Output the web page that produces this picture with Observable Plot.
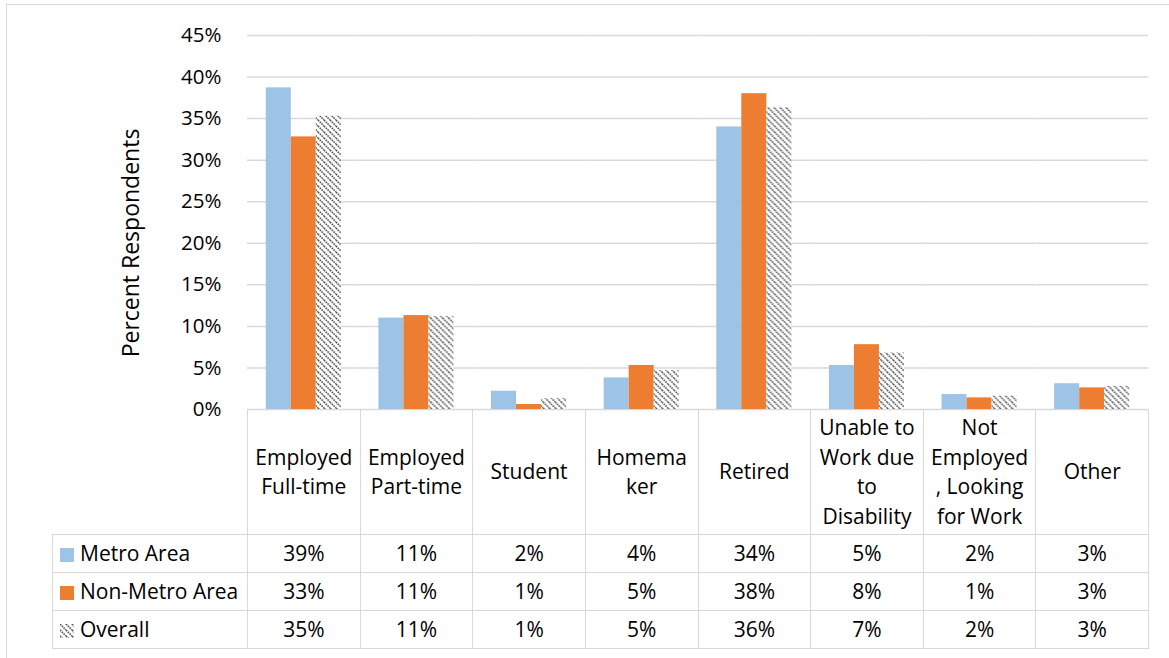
<!DOCTYPE html>
<html><head><meta charset="utf-8">
<script src="https://cdn.jsdelivr.net/npm/d3@7"></script>
<script src="https://cdn.jsdelivr.net/npm/@observablehq/plot@0.6"></script>
<style>
body{margin:0;background:#fff;font-family:"Open Sans",sans-serif;color:#000;}
#wrap{position:relative;width:1169px;height:658px;overflow:hidden;background:#fff;}
#frame{position:absolute;left:6px;top:4px;width:1300px;height:800px;border-left:1.5px solid #d9d9d9;border-top:1.5px solid #d9d9d9;}
#chart{position:absolute;left:0;top:0;}
#ytitle{position:absolute;left:130px;top:243px;transform:translate(-50%,-50%) rotate(-90deg);font-size:23px;white-space:nowrap;}
#tbl{position:absolute;left:52px;top:409px;border-collapse:collapse;table-layout:fixed;font-size:21px;}
#tbl td{border:1.5px solid #d9d9d9;text-align:center;padding:0;white-space:nowrap;}
#tbl tr.head td{height:124px;line-height:29.5px;}
#tbl tr.row td{height:37px;line-height:37px;}
#tbl td.corner{border-top:none;border-left:none;}
#tbl td.lab{text-align:left;padding-left:7px;}
.sw{display:inline-block;width:14px;height:14px;margin-right:6px;vertical-align:-1px;}
</style>
</head><body>
<div id="wrap">
  <svg width="0" height="0" style="position:absolute">
    <defs>
      <pattern id="hatch" patternUnits="userSpaceOnUse" width="6" height="6">
        <rect width="6" height="6" fill="#fff"></rect>
        <path d="M0,0L6,6M-1,5L1,7M5,-1L7,1" stroke="#555" stroke-width="1.6" stroke-dasharray="1.6 0.9"></path>
      </pattern>
    </defs>
  </svg>
  <div id="frame"></div>
  <div id="chart"></div>
  <div id="ytitle">Percent Respondents</div>
  <table id="tbl"></table>
</div>
<script>
// ---- data ----
const categories = ["Employed Full-time", "Employed Part-time", "Student", "Homemaker", "Retired", "Unable to Work due to Disability", "Not Employed, Looking for Work", "Other"];
const headerLines = [["Employed", "Full-time"], ["Employed", "Part-time"], ["Student"], ["Homema", "ker"], ["Retired"], ["Unable to", "Work due", "to", "Disability"], ["Not", "Employed", ", Looking", "for Work"], ["Other"]];
const seriesNames = ["Metro Area", "Non-Metro Area", "Overall"];
const metroArea = [38.7, 11.0, 2.2, 3.8, 34.0, 5.3, 1.8, 3.1];
const nonMetroArea = [32.8, 11.3, 0.6, 5.3, 38.0, 7.8, 1.4, 2.6];
const overall = [35.3, 11.2, 1.3, 4.7, 36.3, 6.8, 1.6, 2.8];
const yTicks = [0, 5, 10, 15, 20, 25, 30, 35, 40, 45];

// ---- styles ----
const fills = ["#9DC3E6", "#ED7D31", "url(#hatch)"];

const seriesValues = [metroArea, nonMetroArea, overall];
const rows = [];
seriesNames.forEach((s, si) => categories.forEach((c, ci) => rows.push({series: s, category: c, value: seriesValues[si][ci]})));

const chart = Plot.plot({
  width: 1169,
  height: 430,
  marginTop: 35,
  marginBottom: 21,
  marginLeft: 247,
  marginRight: 21,
  style: {fontFamily: "Open Sans, sans-serif", fontSize: "20.5px", color: "#000", background: "transparent"},
  fx: {domain: categories, padding: 0, round: false, axis: null},
  x: {domain: seriesNames, paddingInner: 0, paddingOuter: 0.75, round: false, axis: null},
  y: {domain: [0, 45], axis: null},
  color: {domain: seriesNames, range: fills},
  marks: [
    Plot.ruleY(yTicks, {stroke: "#d9d9d9", strokeWidth: 1.5}),
    Plot.barY(rows, {fx: "category", x: "series", y: "value", fill: "series"}),
    Plot.axisY({facetAnchor: "left", ticks: yTicks, tickSize: 0, tickPadding: 26, tickFormat: d => d + "%", label: null})
  ]
});
document.getElementById("chart").appendChild(chart);

// ---- data table ----
const tbl = document.getElementById("tbl");
const cg = document.createElement("colgroup");
[195, ...categories.map(() => 112.625)].forEach(w => {const c = document.createElement("col"); c.style.width = w + "px"; cg.appendChild(c);});
tbl.appendChild(cg);
const head = document.createElement("tr"); head.className = "head";
const corner = document.createElement("td"); corner.className = "corner"; head.appendChild(corner);
headerLines.forEach(lines => {const td = document.createElement("td"); td.innerHTML = lines.join("<br>"); head.appendChild(td);});
tbl.appendChild(head);
seriesNames.forEach((s, si) => {
  const tr = document.createElement("tr"); tr.className = "row";
  const lab = document.createElement("td"); lab.className = "lab";
  const sw = document.createElementNS("http://www.w3.org/2000/svg", "svg");
  sw.setAttribute("class", "sw"); sw.setAttribute("viewBox", "0 0 14 14");
  const r = document.createElementNS("http://www.w3.org/2000/svg", "rect");
  r.setAttribute("width", 14); r.setAttribute("height", 14); r.setAttribute("fill", fills[si]);
  sw.appendChild(r); lab.appendChild(sw);
  lab.appendChild(document.createTextNode(s));
  tr.appendChild(lab);
  seriesValues[si].forEach(v => {const td = document.createElement("td"); td.textContent = Math.round(v) + "%"; tr.appendChild(td);});
  tbl.appendChild(tr);
});
</script>
</body></html>
